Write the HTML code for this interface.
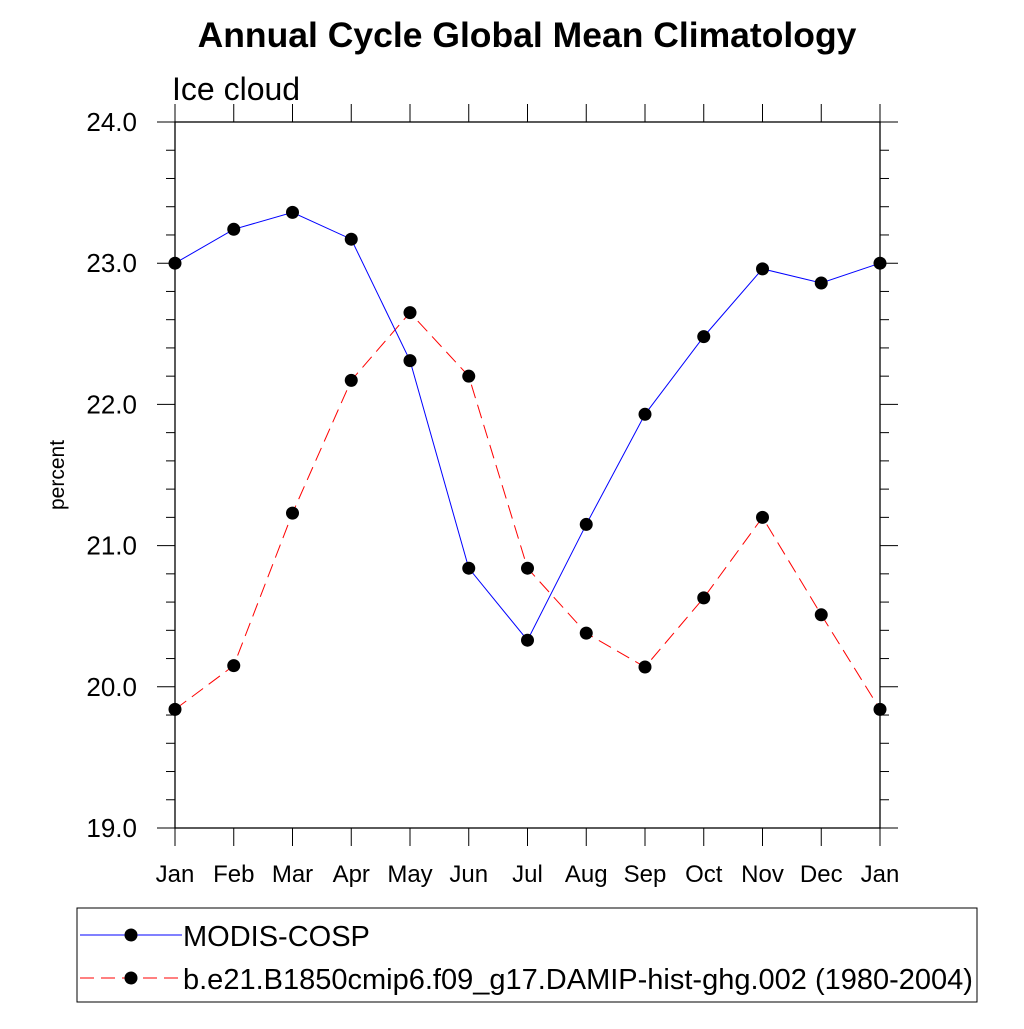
<!DOCTYPE html>
<html><head><meta charset="utf-8"><style>body{margin:0;background:#fff}svg{font-family:"Liberation Sans",sans-serif}</style></head>
<body>
<svg id="c" width="1024" height="1024">
<text x="527" y="47" text-anchor="middle" font-size="35.5" font-weight="bold">Annual Cycle Global Mean Climatology</text>
<text x="172" y="100" font-size="32">Ice cloud</text>
<text transform="translate(64,475) rotate(-90)" text-anchor="middle" font-size="21">percent</text>
<g id="ax"></g>
<g id="marks"></g>
<rect x="77" y="908" width="900" height="94" fill="none" stroke="#000" stroke-width="1"/>
<g>
<line x1="80" y1="935" x2="182" y2="935" stroke="#00f" stroke-width="1"/><circle cx="131" cy="935" r="6.5"/>
<text x="183" y="946" font-size="29">MODIS-COSP</text></g>
<g>
<line x1="80" y1="978" x2="182" y2="978" stroke="#f00" stroke-width="1" stroke-dasharray="14,7"/><circle cx="131" cy="978" r="6.5"/>
<text x="183" y="989" font-size="29">b.e21.B1850cmip6.f09_g17.DAMIP-hist-ghg.002 (1980-2004)</text></g>
</svg>
<script>
const months=["Jan","Feb","Mar","Apr","May","Jun","Jul","Aug","Sep","Oct","Nov","Dec","Jan"];
const modis=[23.0,23.24,23.36,23.17,22.31,20.84,20.33,21.15,21.93,22.48,22.96,22.86,23.0];
const model=[19.84,20.15,21.23,22.17,22.65,22.20,20.84,20.38,20.14,20.63,21.20,20.51,19.84];
const yTicks=["19.0","20.0","21.0","22.0","23.0","24.0"];
const NS="http://www.w3.org/2000/svg";
const L=175,R=880,T=122,B=828,ymin=19,ymax=24;
const xs=i=>L+i*(R-L)/12;
const ys=v=>B-(v-ymin)/(ymax-ymin)*(B-T);
function mk(t,a,p){const e=document.createElementNS(NS,t);for(const k in a)e.setAttribute(k,a[k]);(p||document.getElementById('ax')).appendChild(e);return e;}
const box=mk('rect',{x:L,y:T,width:R-L,height:B-T,fill:'none',stroke:'#000','stroke-width':1.3});


for(let v=19;v<=24.001;v+=0.2){const y=ys(v);const maj=Math.abs(v-Math.round(v))<0.01;const len=maj?18:9;
mk('line',{x1:L-len,y1:y,x2:L,y2:y,stroke:'#000','stroke-width':1});
mk('line',{x1:R,y1:y,x2:R+len,y2:y,stroke:'#000','stroke-width':1});}
yTicks.forEach(s=>{const t=mk('text',{x:L-38,y:ys(+s)+9,'text-anchor':'end','font-size':26});t.textContent=s;

});
months.forEach((m,i)=>{const x=xs(i);
mk('line',{x1:x,y1:B,x2:x,y2:B+18,stroke:'#000','stroke-width':1});
mk('line',{x1:x,y1:T-18,x2:x,y2:T,stroke:'#000','stroke-width':1});
const t=mk('text',{x:x,y:B+54,'text-anchor':'middle','font-size':24});t.textContent=m;

});
const g=document.getElementById('marks');
function series(d,col,dash,name){
const pl=mk('polyline',{points:d.map((v,i)=>xs(i)+','+ys(v)).join(' '),fill:'none',stroke:col,'stroke-width':1,'stroke-dasharray':dash},g);


d.forEach((v,i)=>{const c=mk('circle',{cx:xs(i),cy:ys(v),r:6.5},g);

});}
series(model,'#f00','14,7','model');
series(modis,'#00f','none','modis');
</script>
</body></html>
